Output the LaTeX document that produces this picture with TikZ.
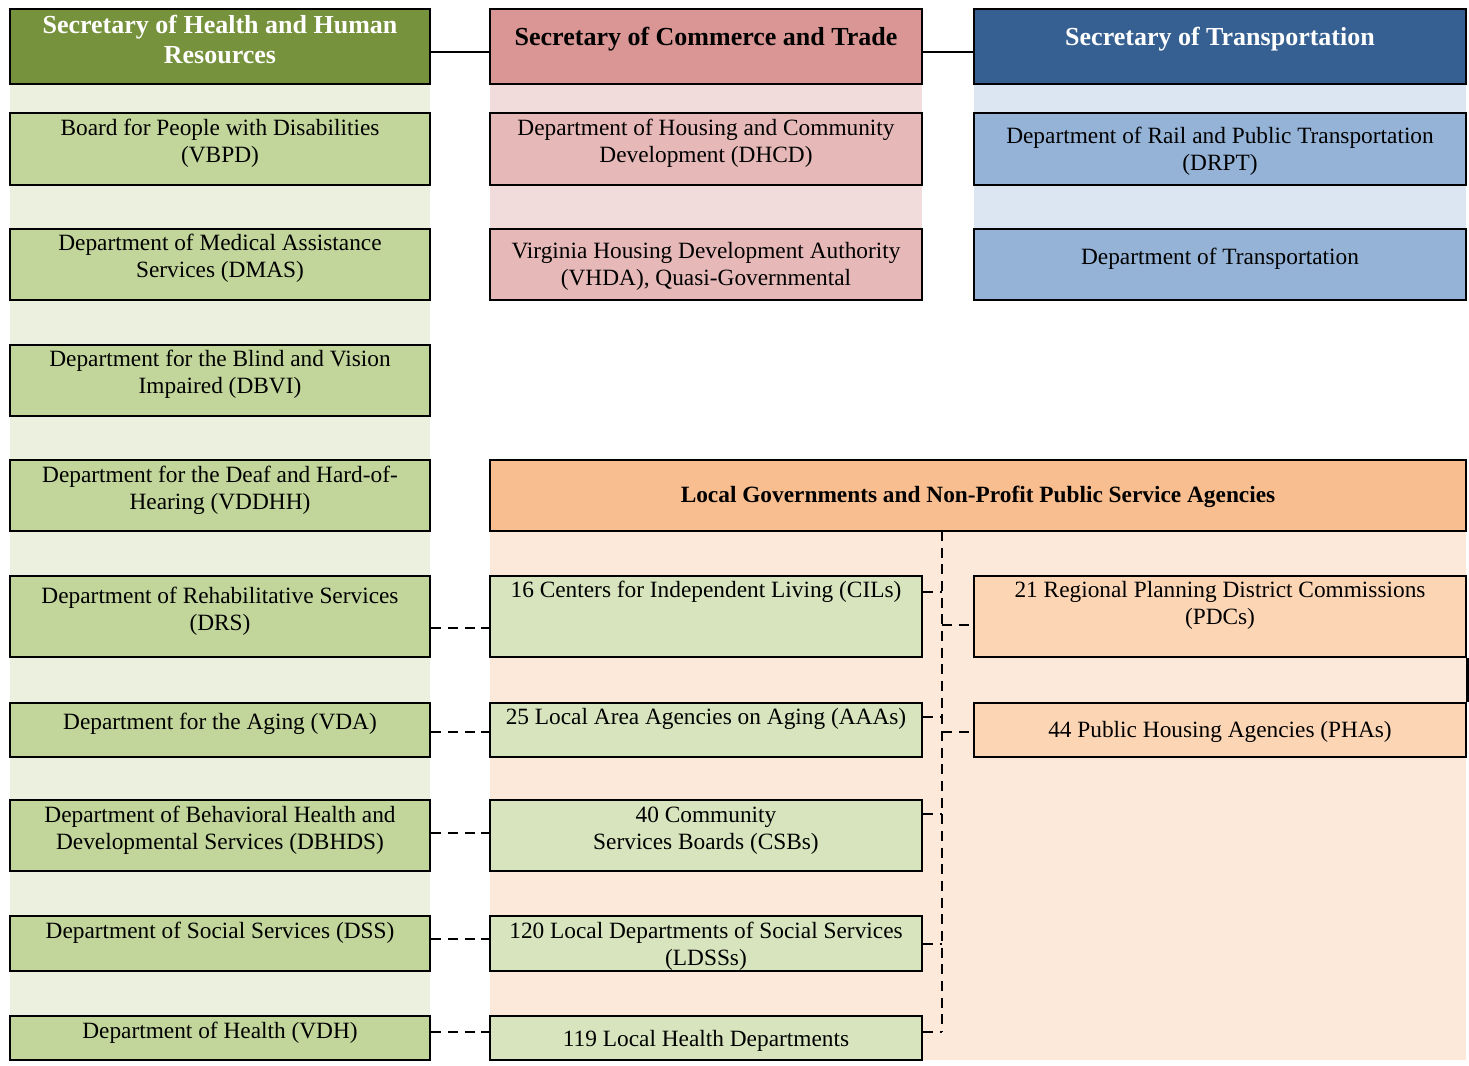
\documentclass[tikz,border=0pt]{standalone}
\usepackage{fontspec}
\setmainfont{Liberation Serif}
\usetikzlibrary{fit}
\definecolor{hhrH}{HTML}{76923C}
\definecolor{gBox}{HTML}{C2D69B}
\definecolor{gBg}{HTML}{EBF1DE}
\definecolor{gLight}{HTML}{D7E4BD}
\definecolor{comH}{HTML}{D99694}
\definecolor{pBox}{HTML}{E6B9B8}
\definecolor{pBg}{HTML}{F2DCDB}
\definecolor{traH}{HTML}{376092}
\definecolor{bBox}{HTML}{95B3D7}
\definecolor{bBg}{HTML}{DCE6F2}
\definecolor{locH}{HTML}{F9BE8F}
\definecolor{oBox}{HTML}{FCD5B5}
\definecolor{oBg}{HTML}{FDE9D9}
\begin{document}
\begin{tikzpicture}[x=0.75pt,y=-0.75pt,
  box/.style={draw=black, line width=2.2pt, inner sep=0pt},
  bg/.style={draw=none, inner sep=0pt},
  txt/.style={align=center, inner sep=0pt, yshift=-1.5pt, font=\fontsize{17.5}{20.25}\selectfont},
  head/.style={align=center, inner sep=0pt, yshift=-1pt, font=\fontsize{19.5}{22.5}\selectfont\bfseries},
  solidlink/.style={draw=black, line width=1.8pt},
  dashlink/.style={draw=black, line width=2.2pt, dash pattern=on 7.5pt off 5pt}
]
\useasboundingbox (0,0) rectangle (1469,1065);
% backgrounds
\node[bg, fill=gBg, fit={(10,85) (430,1060)}] (bgG) {};
\node[bg, fill=pBg, fit={(490,85) (922,229)}] (bgP) {};
\node[bg, fill=bBg, fit={(974,85) (1466,229)}] (bgB) {};
\node[bg, fill=oBg, fit={(490,531) (1466,1060)}] (bgO) {};
% column 1
\node[box, fill=hhrH, fit={(10,9) (430,84)}] (hhr) {};
\node[head, text=white] (thhr) at (220,38) {Secretary of Health and Human\\Resources};
\node[box, fill=gBox, fit={(10,113) (430,185)}] (vbpd) {};
\node[txt] (tvbpd) at (220,141.5) {Board for People with Disabilities\\(VBPD)};
\node[box, fill=gBox, fit={(10,229) (430,300)}] (dmas) {};
\node[txt] (tdmas) at (220,256.5) {Department of Medical Assistance\\Services (DMAS)};
\node[box, fill=gBox, fit={(10,345) (430,416)}] (dbvi) {};
\node[txt] (tdbvi) at (220,372.5) {Department for the Blind and Vision\\Impaired (DBVI)};
\node[box, fill=gBox, fit={(10,460) (430,531)}] (vddhh) {};
\node[txt] (tvddhh) at (220,488.5) {Department for the Deaf and Hard-of-\\Hearing (VDDHH)};
\node[box, fill=gBox, fit={(10,576) (430,657)}] (drs) {};
\node[txt] (tdrs) at (220,609.5) {Department of Rehabilitative Services\\(DRS)};
\node[box, fill=gBox, fit={(10,703) (430,757)}] (vda) {};
\node[txt] (tvda) at (220,722) {Department for the Aging (VDA)};
\node[box, fill=gBox, fit={(10,800) (430,871)}] (dbhds) {};
\node[txt] (tdbhds) at (220,828.5) {Department of Behavioral Health and\\Developmental Services (DBHDS)};
\node[box, fill=gBox, fit={(10,916) (430,971)}] (dss) {};
\node[txt] (tdss) at (220,931) {Department of Social Services (DSS)};
\node[box, fill=gBox, fit={(10,1016) (430,1060)}] (vdh) {};
\node[txt] (tvdh) at (220,1031) {Department of Health (VDH)};
% column 2
\node[box, fill=comH, fit={(490,9) (922,84)}] (com) {};
\node[head] (tcom) at (706,38) {Secretary of Commerce and Trade};
\node[box, fill=pBox, fit={(490,113) (922,185)}] (dhcd) {};
\node[txt] (tdhcd) at (706,141.5) {Department of Housing and Community\\Development (DHCD)};
\node[box, fill=pBox, fit={(490,229) (922,300)}] (vhda) {};
\node[txt] (tvhda) at (706,264.5) {Virginia Housing Development Authority\\(VHDA), Quasi-Governmental};
\node[box, fill=locH, fit={(490,460) (1466,531)}] (loc) {};
\node[head, font=\fontsize{17.5}{20}\selectfont\bfseries] (tloc) at (978,496) {Local Governments and Non-Profit Public Service Agencies};
\node[box, fill=gLight, fit={(490,576) (922,657)}] (cil) {};
\node[txt] (tcil) at (706,590) {16 Centers for Independent Living (CILs)};
\node[box, fill=gLight, fit={(490,703) (922,757)}] (aaa) {};
\node[txt] (taaa) at (706,717) {25 Local Area Agencies on Aging (AAAs)};
\node[box, fill=gLight, fit={(490,800) (922,871)}] (csb) {};
\node[txt] (tcsb) at (706,828.5) {40 Community\\Services Boards (CSBs)};
\node[box, fill=gLight, fit={(490,916) (922,971)}] (ldss) {};
\node[txt] (tldss) at (706,944.5) {120 Local Departments of Social Services\\(LDSSs)};
\node[box, fill=gLight, fit={(490,1016) (922,1060)}] (lhd) {};
\node[txt] (tlhd) at (706,1039) {119 Local Health Departments};
% column 3
\node[box, fill=traH, fit={(974,9) (1466,84)}] (tra) {};
\node[head, text=white] (ttra) at (1220,38) {Secretary of Transportation};
\node[box, fill=bBox, fit={(974,113) (1466,185)}] (drpt) {};
\node[txt] (tdrpt) at (1220,149.5) {Department of Rail and Public Transportation\\(DRPT)};
\node[box, fill=bBox, fit={(974,229) (1466,300)}] (dot) {};
\node[txt] (tdot) at (1220,257) {Department of Transportation};
\node[box, fill=oBox, fit={(974,576) (1466,657)}] (pdc) {};
\node[txt] (tpdc) at (1220,603.5) {21 Regional Planning District Commissions\\(PDCs)};
\node[box, fill=oBox, fit={(974,703) (1466,757)}] (pha) {};
\node[txt] (tpha) at (1220,730) {44 Public Housing Agencies (PHAs)};
% level coordinates
\coordinate (y52) at (0,52);
\coordinate (y628) at (0,628);
\coordinate (y732) at (0,732);
\coordinate (y833) at (0,833);
\coordinate (y939) at (0,939);
\coordinate (y1032) at (0,1032);
\coordinate (y592) at (0,592);
\coordinate (y717) at (0,717);
\coordinate (y814) at (0,814);
\coordinate (y944) at (0,944);
\coordinate (y625) at (0,625);
\coordinate (busTop) at (942,531);
\coordinate (busBot) at (942,1032);
% solid connectors between secretaries
\draw[solidlink] (hhr.east |- y52) -- (com.west |- y52);
\draw[solidlink] (com.east |- y52) -- (tra.west |- y52);
% dashed connectors state -> local
\draw[dashlink] (drs.east |- y628) -- (cil.west |- y628);
\draw[dashlink] (vda.east |- y732) -- (aaa.west |- y732);
\draw[dashlink] (dbhds.east |- y833) -- (csb.west |- y833);
\draw[dashlink] (dss.east |- y939) -- (ldss.west |- y939);
\draw[dashlink] (vdh.east |- y1032) -- (lhd.west |- y1032);
% bus
\draw[dashlink] (busTop) -- (busBot);
\draw[dashlink] (cil.east |- y592) -- (busTop |- y592);
\draw[dashlink] (aaa.east |- y717) -- (busTop |- y717);
\draw[dashlink] (csb.east |- y814) -- (busTop |- y814);
\draw[dashlink] (ldss.east |- y944) -- (busTop |- y944);
\draw[dashlink] (lhd.east |- y1032) -- (busBot);
\draw[dashlink] (busTop |- y625) -- (pdc.west |- y625);
\draw[dashlink] (busTop |- y732) -- (pha.west |- y732);
\draw[line width=2.2pt] (pdc.south east) -- (pha.north east);
\end{tikzpicture}
\end{document}
